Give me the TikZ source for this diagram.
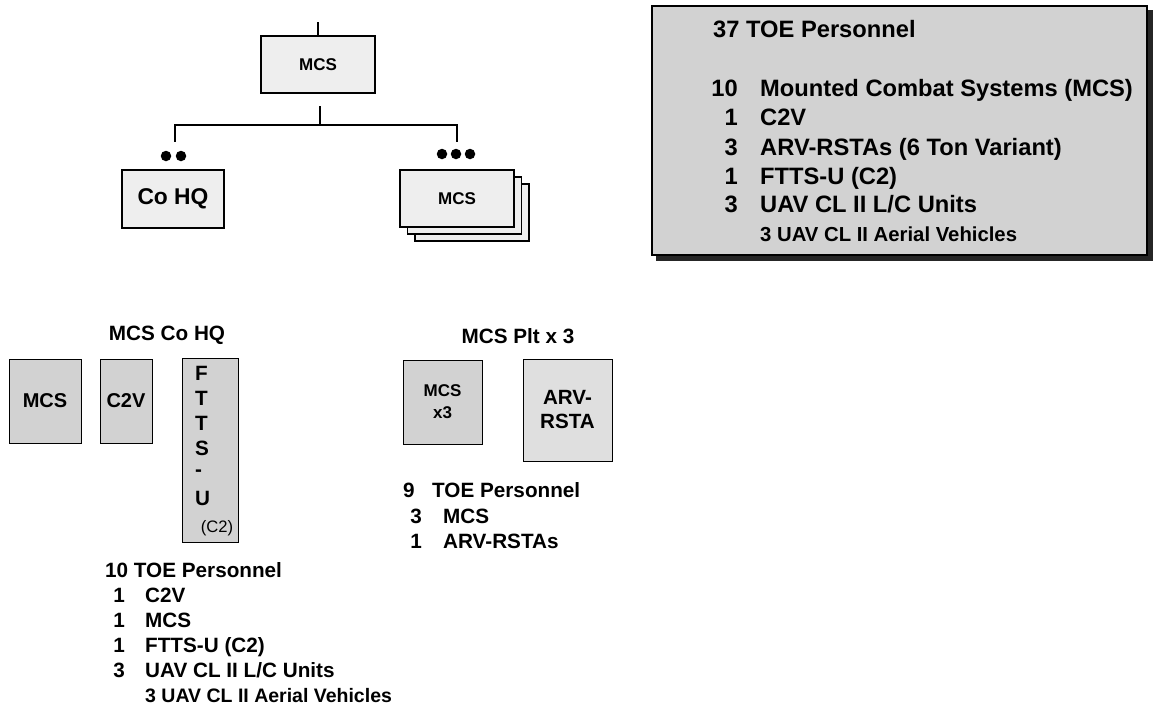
\documentclass[tikz,border=0pt]{standalone}
\usepackage{fontspec}
\setmainfont{Liberation Sans}
\usetikzlibrary{shadows}

\tikzstyle{bx1}=[rectangle,fill=gray!13,draw,line width=1.5pt,inner sep=0pt,align=center,font=\fontsize{17}{20}\selectfont\bfseries]
\tikzstyle{bx2}=[rectangle,fill=gray!35,draw,line width=1pt,inner sep=0pt,align=center,font=\fontsize{20}{24}\selectfont\bfseries]
\tikzstyle{bx3}=[rectangle,fill=gray!35,draw,line width=1.2pt,inner sep=0pt,copy shadow={shadow xshift=5pt,shadow yshift=-5pt,fill=black!85,draw=black!85}]
\tikzstyle{blob}=[circle,fill=black,inner sep=0pt,minimum size=10.5pt]
\tikzstyle{li1}=[inner sep=0pt,font=\fontsize{23.7}{29}\selectfont\bfseries]
\tikzstyle{li2}=[inner sep=0pt,font=\fontsize{20.7}{25}\selectfont\bfseries]
\tikzstyle{li3}=[inner sep=0pt,font=\fontsize{19.5}{25}\selectfont\bfseries]
\tikzstyle{li4}=[inner sep=0pt,font=\fontsize{16.6}{20}\selectfont]
\tikzstyle{con}=[line width=1.5pt]

\begin{document}
\begin{tikzpicture}[x=1pt,y=-1pt]
\useasboundingbox (0,0) rectangle (1167,705);

%Company and its two parts
\coordinate (up) at (318,22);
\node [bx1,minimum width=114pt,minimum height=57pt] at (318,64.5) (mcs) {MCS};
\node [bx1,minimum width=102pt,minimum height=58pt,font=\fontsize{22.8}{26}\selectfont\bfseries] at (173,199) (hq) {Co HQ};
\node [bx1,minimum width=114pt,minimum height=57pt,copy shadow={shadow xshift=15pt,shadow yshift=-14pt},copy shadow={shadow xshift=7.5pt,shadow yshift=-7pt}] at (457,198.5) (plt) {MCS};

\coordinate (stub) at (320,106);
\coordinate (bus) at (320,125);
\coordinate (hqtop) at (175,142);
\coordinate (plttop) at (457,142);

\draw [con] (up) -- (mcs);
\draw [con] (stub) -- (bus) -| (hqtop);
\draw [con] (bus) -| (plttop);

\foreach \x [count=\i] in {166,181} \node [blob] at (\x,156) (hqd\i) {};
\foreach \x [count=\i] in {442,456,470} \node [blob] at (\x,154) (pltd\i) {};

%Company totals
\node [bx3,minimum width=495pt,minimum height=249pt] at (899.5,130.5) (info) {};
\node [li1,anchor=base west] at (713,37) (itoe) {37 TOE Personnel};
\node [li1,anchor=base east] at (738,96.7) (in1) {10};
\node [li1,anchor=base west] at (760,96.7) (it1) {Mounted Combat Systems (MCS)};
\node [li1,anchor=base east] at (738,125) (in2) {1};
\node [li1,anchor=base west] at (760,125) (it2) {C2V};
\node [li1,anchor=base east] at (738,155) (in3) {3};
\node [li1,anchor=base west] at (760,155) (it3) {ARV-RSTAs (6 Ton Variant)};
\node [li1,anchor=base east] at (738,184) (in4) {1};
\node [li1,anchor=base west] at (760,184) (it4) {FTTS-U (C2)};
\node [li1,anchor=base east] at (738,212) (in5) {3};
\node [li1,anchor=base west] at (760,212) (it5) {UAV CL II L/C Units};
\node [li3,font=\fontsize{20.3}{25}\selectfont\bfseries,anchor=base west] at (760,241) (it6) {3 UAV CL II Aerial Vehicles};

%Co HQ
\node [li2,anchor=base] at (167,340.7) (hqttl) {MCS Co HQ};
\node [bx2,minimum width=72pt,minimum height=84pt] at (45,401) (hqmcs) {MCS};
\node [bx2,minimum width=52pt,minimum height=84pt] at (126,401) (hqc2v) {C2V};
\node [bx2,minimum width=56pt,minimum height=184pt] at (210,450) (hqftts) {};
\foreach \l [count=\i] in {F,T,T,S,-,U} \node [li2,anchor=west] at (195,348+25*\i) (ft\i) {\l};
\node [li4] at (217,528) (ftc2) {(C2)};

\node [li2,anchor=base west] at (105,577) (hqtoe) {10 TOE Personnel};
\node [li2,anchor=base east] at (125,602) (hn1) {1};
\node [li2,anchor=base west] at (145,602) (ht1) {C2V};
\node [li2,anchor=base east] at (125,627) (hn2) {1};
\node [li2,anchor=base west] at (145,627) (ht2) {MCS};
\node [li2,anchor=base east] at (125,652) (hn3) {1};
\node [li2,anchor=base west] at (145,652) (ht3) {FTTS-U (C2)};
\node [li2,anchor=base east] at (125,677) (hn4) {3};
\node [li2,anchor=base west] at (145,677) (ht4) {UAV CL II L/C Units};
\node [li3,anchor=base west] at (145,702) (ht5) {3 UAV CL II Aerial Vehicles};

%Platoon
\node [li2,anchor=base] at (518,343) (plttl) {MCS Plt x 3};
\node [bx2,minimum width=79pt,minimum height=84pt,font=\fontsize{17}{22}\selectfont\bfseries] at (442.5,402) (pltmcs) {MCS\\x3};
\node [bx2,fill=gray!25,minimum width=89pt,minimum height=102pt,font=\fontsize{20.6}{24}\selectfont\bfseries] at (567.5,410) (arv) {ARV-\\RSTA};

\node [li2,anchor=base west] at (403,497) (pn0) {9};
\node [li2,anchor=base west] at (432,497) (pt0) {TOE Personnel};
\node [li2,anchor=base east] at (422,523) (pn1) {3};
\node [li2,anchor=base west] at (443,523) (pt1) {MCS};
\node [li2,anchor=base east] at (422,548) (pn2) {1};
\node [li2,anchor=base west] at (443,548) (pt2) {ARV-RSTAs};

\end{tikzpicture}
\end{document}
